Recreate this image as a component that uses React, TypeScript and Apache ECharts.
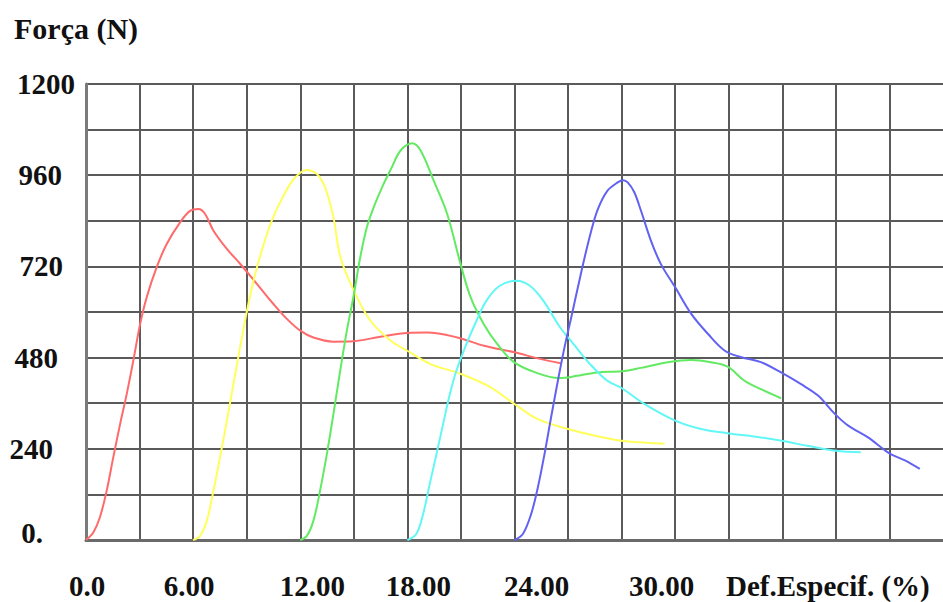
import React, { useEffect, useRef } from 'react';
import * as echarts from 'echarts';

// Force (N) versus specific deformation (%), five specimens
const redCurve: [number, number][] = [
  [0, 0], [0.41, 20], [0.78, 60], [1.16, 130], [1.53, 218], [1.91, 305], [2.28, 384], [2.65, 472],
  [3.03, 568], [3.4, 639], [3.96, 718], [4.52, 779], [5.27, 836], [5.83, 866], [6.3, 871], [6.67, 858],
  [7.14, 814], [7.89, 766], [8.63, 727], [9.57, 674], [10.5, 621], [11.25, 582], [12.0, 551], [12.74, 533],
  [13.86, 522], [14.98, 523], [16.49, 535], [18.0, 545], [19.1, 546], [20.8, 533], [22.3, 511], [24.0, 494],
  [25.3, 478], [26.6, 465],
];
const yellowCurve: [number, number][] = [
  [6.0, 0], [6.39, 11], [6.77, 51], [7.14, 130], [7.51, 218], [7.89, 314], [8.26, 411], [8.63, 507],
  [9.0, 599], [9.38, 682], [9.84, 761], [10.4, 840], [11.06, 906], [11.71, 954], [12.37, 974], [12.93, 963],
  [13.39, 928], [13.86, 849], [14.25, 744], [15.0, 656], [15.93, 577], [17.05, 525], [18.0, 498], [19.3, 463],
  [21.0, 437], [22.5, 406], [24.0, 358], [25.3, 318], [27.0, 292], [28.45, 275], [30.0, 261], [31.08, 257],
  [32.4, 253],
];
const greenCurve: [number, number][] = [
  [12.0, 0], [12.37, 11], [12.74, 51], [13.11, 130], [13.49, 226], [13.86, 332], [14.24, 446], [14.61, 551],
  [14.98, 640], [15.36, 744], [15.73, 823], [16.1, 874], [16.6, 930], [17.1, 978], [17.62, 1025], [18.27, 1044],
  [18.74, 1025], [19.48, 945], [20.23, 858], [20.98, 726], [21.54, 639], [22.28, 568], [23.03, 516], [23.97, 468],
  [25.27, 439], [26.49, 426], [27.51, 432], [28.64, 441], [30.0, 444], [31.08, 453], [32.58, 468], [33.9, 474],
  [35.0, 468], [35.94, 456], [36.88, 419], [37.8, 397], [38.93, 373],
];
const cyanCurve: [number, number][] = [
  [18.0, 0], [18.5, 16], [18.88, 68], [19.25, 147], [19.63, 226], [20.0, 305], [20.38, 384], [20.75, 446],
  [21.31, 516], [21.87, 577], [22.43, 630], [23.18, 669], [24.11, 682], [24.86, 669], [25.61, 630], [26.55, 560],
  [27.3, 516], [28.23, 463], [29.2, 419], [30.0, 400], [31.27, 358], [33.0, 314], [34.45, 292], [35.94, 281],
  [37.8, 270], [38.97, 261], [40.4, 248], [42.0, 235], [43.4, 231],
];
const blueCurve: [number, number][] = [
  [24.0, 0], [24.47, 16], [24.93, 68], [25.31, 139], [25.68, 226], [26.05, 323], [26.43, 419], [26.8, 507],
  [27.18, 586], [27.55, 665], [27.93, 744], [28.3, 814], [28.67, 871], [29.2, 919], [29.78, 941], [30.08, 947],
  [30.34, 941], [30.71, 915], [31.08, 867], [31.64, 788], [32.2, 726], [33.0, 665], [33.9, 595], [34.84, 542],
  [35.78, 498], [36.7, 481], [37.8, 468], [38.93, 441], [40.05, 410], [41.0, 380], [41.94, 332], [42.69, 301],
  [43.8, 270], [45.0, 228], [45.9, 209], [46.7, 187],
];

const xTickValues = [0, 6, 12, 18, 24, 30];
const xTickLabels = ['0.0', '6.00', '12.00', '18.00', '24.00', '30.00'];
const xAxisTitle = 'Def.Especif. (%)';
const xAxisTitleAt = 42;
const yTickValues = [0, 240, 480, 720, 960, 1200];
const yTickLabels = ['0.', '240', '480', '720', '960', '1200'];
const yAxisTitle = 'Força (N)';

const seriesColors = ['#ff6a6a', '#ffff5c', '#62ea62', '#62f7f7', '#6262f2'];
const seriesData = [redCurve, yellowCurve, greenCurve, cyanCurve, blueCurve];

const FONT = "'Liberation Serif', 'Times New Roman', serif";

export default function App() {
  const ref = useRef<HTMLDivElement>(null);
  useEffect(() => {
    if (!ref.current) return;
    const chart = echarts.init(ref.current, null, { renderer: 'svg' });
    const base = { fontFamily: FONT, fontWeight: 'bold' as const, fontSize: 29, color: '#111' };
    // per-label horizontal nudges (px) for x labels
    const xShift = [1, -4, 12, 11, 22, 40];
    const xRich: Record<string, any> = {};
    xShift.forEach((dx, i) => {
      xRich['x' + i] = {
        ...base,
        padding: dx >= 0 ? [0, 0, 0, 2 * dx] : [0, -2 * dx, 0, 0],
      };
    });
    xRich.xn = { ...base, padding: [0, 16, 0, 0] };
    // per-label right padding for y labels
    const yShift = [32, 22, 17, 12, 13, 0];
    const yRich: Record<string, any> = {};
    yShift.forEach((p, i) => {
      yRich['y' + i] = { ...base, padding: [0, p, i === 0 ? 14 : 0, 0] };
    });

    const option: any = {
      animation: false,
      backgroundColor: '#ffffff',
      title: {
        text: yAxisTitle,
        left: 14,
        top: 13,
        padding: 0,
        textStyle: { ...base, fontSize: 30 },
      },
      grid: { left: 86, top: 84, width: 857, height: 456, containLabel: false },
      xAxis: {
        type: 'value',
        min: 0,
        max: 48,
        interval: 3,
        axisLine: { show: true, onZero: false, lineStyle: { color: '#6a6a6a', width: 3 } },
        axisTick: { show: false },
        splitLine: { show: true, showMaxLine: false, lineStyle: { color: '#5a5a5a', width: 2 } },
        axisLabel: {
          margin: 31,
          showMaxLabel: false,
          rich: xRich,
          formatter: (v: number) => {
            const i = xTickValues.indexOf(v);
            if (i >= 0) return '{x' + i + '|' + xTickLabels[i] + '}';
            if (v === xAxisTitleAt) return '{xn|' + xAxisTitle + '}';
            return '';
          },
        },
      },
      yAxis: {
        type: 'value',
        min: 0,
        max: 1200,
        interval: 120,
        axisLine: { show: true, lineStyle: { color: '#7a7a7a', width: 3 } },
        axisTick: { show: false },
        splitLine: { show: true, lineStyle: { color: '#5a5a5a', width: 2 } },
        axisLabel: {
          margin: 11,
          rich: yRich,
          formatter: (v: number) => {
            const i = yTickValues.indexOf(v);
            if (i >= 0) return '{y' + i + '|' + yTickLabels[i] + '}';
            return '';
          },
        },
      },
      series: seriesData.map((d, i) => ({
        type: 'line',
        data: d,
        showSymbol: false,
        smooth: 0.35,
        clip: true,
        lineStyle: { color: seriesColors[i], width: 2 },
        z: 3 + i,
      })),
    };
    chart.setOption(option);
    return () => chart.dispose();
  }, []);
  return (
    <div
      style={{
        position: 'fixed',
        left: 0,
        top: 0,
        width: 943,
        height: 602,
        overflow: 'hidden',
        background: '#fff',
      }}
    >
      <div ref={ref} style={{ width: 943, height: 602 }} />
    </div>
  );
}
